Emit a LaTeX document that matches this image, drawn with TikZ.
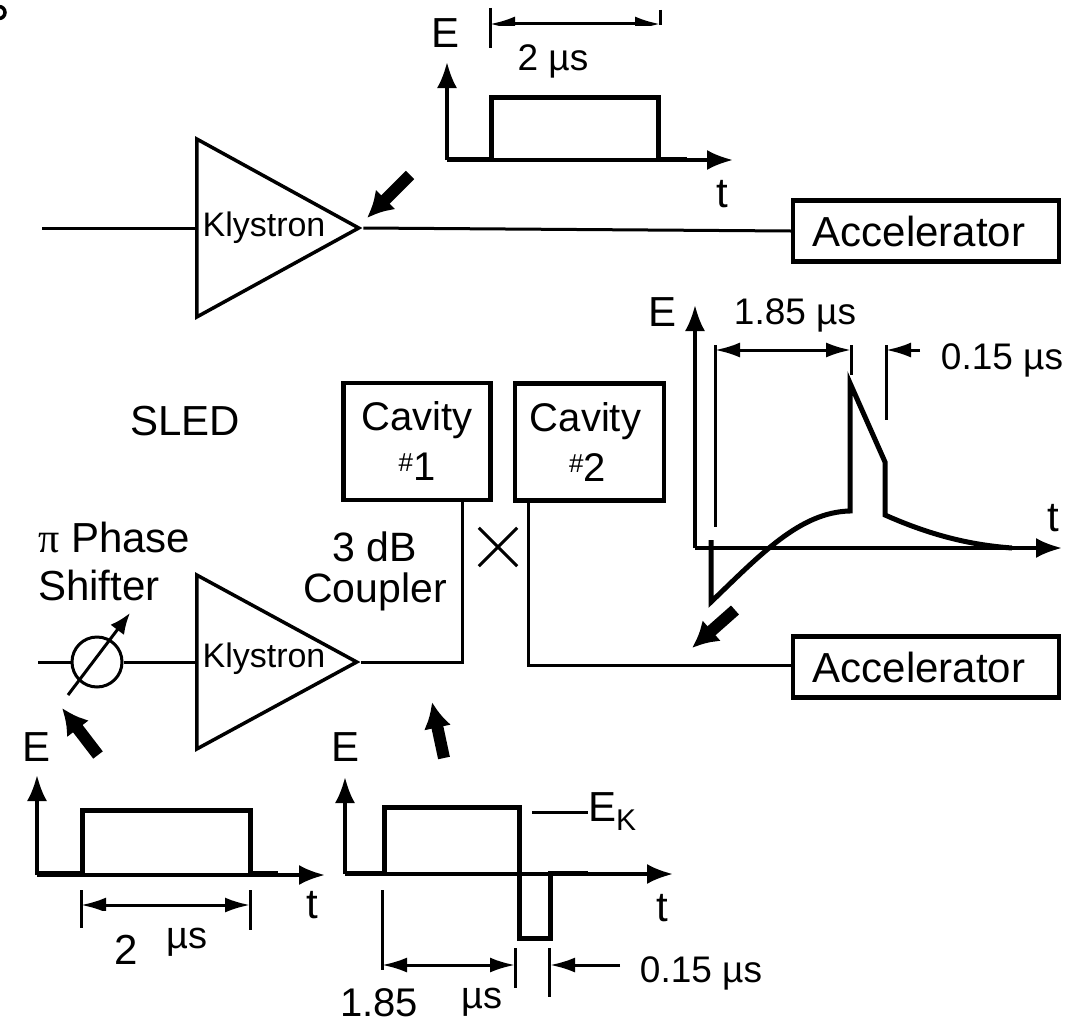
\documentclass[tikz,border=0pt]{standalone}
\usepackage{fontspec}
\setmainfont{Liberation Sans}
\newfontfamily\pifont{Liberation Serif}
\usepackage{tikz}
\usetikzlibrary{arrows.meta,positioning,shapes.geometric}
\newcommand{\hashmark}{\raisebox{9pt}{\fontsize{26}{26}\selectfont\#}}

\begin{document}
\begin{tikzpicture}[
x=1pt, y=-1pt,
box/.style={draw, line width=4.5pt, align=center, inner sep=0pt, font=\fontsize{40}{50}\selectfont},
accbox/.style={box, minimum width=266pt, minimum height=61pt, font=\fontsize{42}{50}\selectfont},
cavbox/.style={box, minimum width=147pt, minimum height=117pt},
amp/.style={draw, line width=3.5pt, isosceles triangle, isosceles triangle stretches, inner sep=0pt, minimum width=178pt, minimum height=162pt, anchor=lower side},
lbl/.style={inner sep=0pt, align=center, font=\fontsize{37}{46}\selectfont},
big/.style={inner sep=0pt, align=center, font=\fontsize{42}{48}\selectfont},
wire/.style={line width=3pt},
axis/.style={line width=3.5pt, -{Latex[length=26pt,width=20pt]}},
pulse/.style={line width=5pt, line join=miter},
tick/.style={line width=3pt},
dim/.style={line width=3pt, {Latex[length=25pt,width=15pt]}-{Latex[length=25pt,width=15pt]}},
dimin/.style={line width=3pt, -{Latex[length=25pt,width=15pt]}},
blockarrow/.style={line width=12pt, -{Latex[length=26pt,width=28pt]}}
]
\useasboundingbox (0,0) rectangle (1070,1025);
% stray mark in the corner
\draw[line width=3.5pt] (-1,12.5) circle (6);

% top chain
\coordinate (in1) at (42,228);
\node[amp] (kly1) at (195,228) {};
\node[lbl, font=\fontsize{34}{40}\selectfont] (kly1t) at (264,228) {Klystron};
\node[accbox] (acc1) at (926,231) {\raisebox{-3pt}{Accelerator}\hspace*{14pt}};
\draw[wire] (in1)--(kly1.lower side);
\draw[wire] (kly1.apex)--(acc1.west);
\coordinate (b1s) at (410,175); \coordinate (b1e) at (367,218);
\draw[blockarrow] (b1s)--(b1e);

% top pulse
\coordinate (o1) at (447,160); \coordinate (e1) at (447,62); \coordinate (t1) at (733,160);
\draw[axis] (o1)--(e1);
\draw[axis] (o1)--(t1);
\draw[pulse] (447,159)--(491,159)--(491,97)--(658,97)--(658,159)--(687,159);
\node[big] (e1t) at (445,33) {E};
\node[big] (t1t) at (722,194) {t};
\coordinate (d1a) at (490,24); \coordinate (d1b) at (660,24);
\draw[dim] (d1a)--(d1b);
\draw[tick] (490,8)--(490,48);
\draw[tick] (660,10)--(660,25);
\fill[white] (498,26) rectangle (685,88);
\node[lbl] (w1) at (553,61) {2 µs};

% SLED part
\node[big] (sled) at (185,421) {SLED};
\node[cavbox] (cav1) at (417,441.5) {Cavity\\\hashmark 1};
\node[cavbox, minimum width=149pt] (cav2) at (589.5,442) {Cavity\hspace*{8pt}\\\hashmark 2\hspace*{4pt}};
\node[big, font=\fontsize{41}{41}\selectfont] (coupler) at (375,571) {3 dB\\Coupler};
\node[big, align=left, anchor=west, font=\fontsize{42}{48}\selectfont] (shifter) at (38,561) {{\pifont π} Phase\\Shifter};
\node[inner sep=0pt, minimum size=38pt] (cross) at (498,547) {};
\draw[wire] (cross.north west)--(cross.south east);
\draw[wire] (cross.south west)--(cross.north east);

\coordinate (in2) at (38,662);
\node[draw, circle, line width=3pt, minimum size=50pt, inner sep=0pt] (phase) at (97,662) {};
\node[amp, minimum width=174pt, minimum height=160pt] (kly2) at (195,662) {};
\node[lbl, font=\fontsize{34}{40}\selectfont] (kly2t) at (264,659) {Klystron};
\node[accbox] (acc2) at (926,667) {\raisebox{-3pt}{Accelerator}\hspace*{14pt}};
\coordinate (c1) at (462,662); \coordinate (c2) at (528,665);
\draw[wire] (in2)--(phase);
\draw[wire] (phase)--(kly2.lower side);
\draw[wire] (kly2.apex)--(c1)--(cav1.south-|c1);
\draw[wire] (cav2.south-|c2)--(c2)--(c2-|acc2.west);
\coordinate (ps) at (68,695); \coordinate (pe) at (130,613);
\draw[line width=3pt, -{Latex[length=21pt,width=17pt]}] (ps)--(pe);
\coordinate (b2s) at (98,755); \coordinate (b2e) at (62,708);
\draw[blockarrow] (b2s)--(b2e);
\coordinate (b3s) at (444,758); \coordinate (b3e) at (432,702);
\draw[blockarrow] (b3s)--(b3e);
\coordinate (b4s) at (735,610); \coordinate (b4e) at (692,648);
\draw[blockarrow] (b4s)--(b4e);

% right pulse
\coordinate (o4) at (695,548); \coordinate (e4) at (695,305); \coordinate (t4) at (1062,548);
\draw[axis] (o4)--(e4);
\draw[axis] (o4)--(t4);
\draw[pulse] (711,540)--(711,602) .. controls (760,555) and (800,512) .. (850,511)--(850,383)--(885,462)--(885,515) .. controls (930,535) and (970,545) .. (1012,548);
\node[big] (e4t) at (662,312) {E};
\node[big] (t4t) at (1053,518) {t};
\coordinate (d4a) at (715,350); \coordinate (d4b) at (851,350); \coordinate (d4c) at (920,350); \coordinate (d4d) at (886,350);
\draw[dim] (d4a)--(d4b);
\draw[dimin] (d4c)--(d4d);
\draw[tick] (715,345)--(715,527);
\draw[tick] (851,345)--(851,375);
\draw[tick] (886,345)--(886,420);
\node[lbl] (w4) at (795,315) {1.85 µs};
\node[lbl] (w5) at (1002,360) {0.15 µs};

% lower left pulse
\coordinate (o2) at (37,875); \coordinate (e2) at (37,775); \coordinate (t2) at (325,875);
\draw[axis] (o2)--(e2);
\draw[axis] (o2)--(t2);
\draw[pulse] (37,873)--(82,873)--(82,810)--(250,810)--(250,873)--(278,873);
\node[big] (e2t) at (37,747) {E};
\node[big] (t2t) at (312,905) {t};
\coordinate (d2a) at (81,905); \coordinate (d2b) at (250,905);
\draw[dim] (d2a)--(d2b);
\draw[tick] (81,890)--(81,928);
\draw[tick] (250,890)--(250,930);
\fill[white] (95,911) rectangle (150,965);
\node[big] (w2) at (126,950) {2};
\node[big, font=\fontsize{38}{40}\selectfont] (w2u) at (187,942) {µs};

% lower middle pulse
\coordinate (o3) at (345,874); \coordinate (e3) at (345,777); \coordinate (t3) at (673,874);
\draw[axis] (o3)--(e3);
\draw[axis] (o3)--(t3);
\draw[pulse] (345,873)--(384,873)--(384,807)--(519,807)--(519,938)--(550,938)--(550,873)--(588,873);
\node[big] (e3t) at (346,747) {E};
\node[big] (t3t) at (662,908) {t};
\node[big, anchor=west] (ek) at (588,812) {E\raisebox{-9pt}{\fontsize{30}{30}\selectfont K}};
\coordinate (ekl) at (532,812);
\draw[wire] (ekl)--(ek.west);
\coordinate (d3a) at (382,965); \coordinate (d3b) at (515,965); \coordinate (d3c) at (620,965); \coordinate (d3d) at (550,965);
\draw[dim] (d3a)--(d3b);
\draw[dimin] (d3c)--(d3d);
\draw[tick] (382,890)--(382,970);
\draw[tick] (515,948)--(515,988);
\draw[tick] (549,948)--(549,997);
\node[lbl] (w3) at (701,973) {0.15 µs};
\node[big, font=\fontsize{40}{44}\selectfont] (w6) at (379,1003) {1.85};
\node[big, font=\fontsize{38}{40}\selectfont] (w6u) at (482,1002) {µs};
\end{tikzpicture}
\end{document}
